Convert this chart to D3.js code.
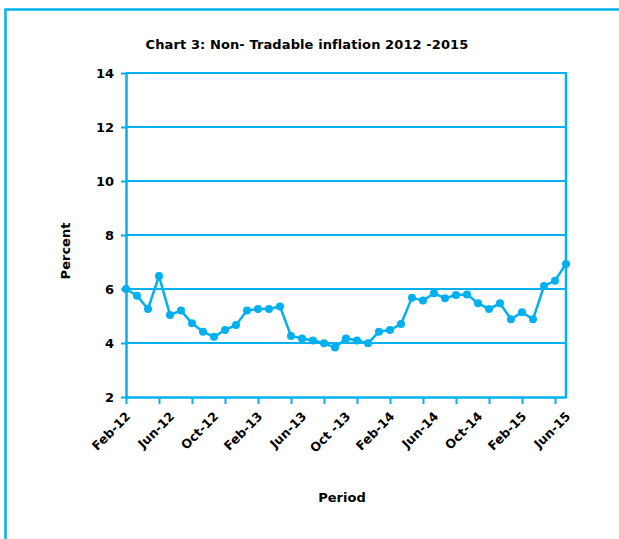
<!DOCTYPE html>
<html lang="en">
  <head>
    <meta charset="utf-8" />
    <script src="https://d3js.org/d3.v7.min.js"></script>
    <style>
      body { margin: 0; background: #ffffff; }
      text { font-family: "DejaVu Sans", sans-serif; font-weight: bold; fill: #000000; }
    </style>
  </head>
  <body>
    <script type="text/javascript">

      // months on the x axis (one point per month)
      var months = ["Feb-12", "Mar-12", "Apr-12", "May-12", "Jun-12", "Jul-12",
                    "Aug-12", "Sep-12", "Oct-12", "Nov-12", "Dec-12", "Jan-13",
                    "Feb-13", "Mar-13", "Apr-13", "May-13", "Jun-13", "Jul-13",
                    "Aug-13", "Sep-13", "Oct-13", "Nov-13", "Dec-13", "Jan-14",
                    "Feb-14", "Mar-14", "Apr-14", "May-14", "Jun-14", "Jul-14",
                    "Aug-14", "Sep-14", "Oct-14", "Nov-14", "Dec-14", "Jan-15",
                    "Feb-15", "Mar-15", "Apr-15", "May-15", "Jun-15"];

      // non-tradable inflation, percent
      var inflation = [6.00, 5.75, 5.26, 6.48, 5.04, 5.20, 4.73, 4.42, 4.23, 4.48,
                       4.67, 5.20, 5.26, 5.26, 5.35, 4.26, 4.17, 4.09, 3.99, 3.83,
                       4.17, 4.09, 3.99, 4.42, 4.48, 4.70, 5.68, 5.57, 5.84, 5.66,
                       5.78, 5.80, 5.47, 5.26, 5.47, 4.88, 5.14, 4.88, 6.11, 6.31,
                       6.93];

      // labelled months and their texts
      var labelMonths = ["Feb-12", "Jun-12", "Oct-12", "Feb-13", "Jun-13", "Oct-13",
                         "Feb-14", "Jun-14", "Oct-14", "Feb-15", "Jun-15"];
      var labelTexts = ["Feb-12", "Jun-12", "Oct-12", "Feb-13", "Jun-13", "Oct -13",
                        "Feb-14", "Jun-14", "Oct-14", "Feb-15", "Jun-15"];

      // months that get a tick mark (every third month)
      var tickMonths = months.filter(function(d, i) { return i % 3 == 0; });

      var yTicks = [2, 4, 6, 8, 10, 12, 14];

      // variables svg
      var w = 619;
      var h = 539;
      var plotLeft = 126;
      var plotRight = 566;
      var plotTop = 73;
      var plotBottom = 397;
      var blue = "#00b0f0";

      var svg = d3.select("body")
                  .append("svg")
                  .attr("width", w)
                  .attr("height", h);

      // outer frame, runs off the picture on the right and bottom
      svg.append("rect")
         .attr("x", 5.5)
         .attr("y", 9.5)
         .attr("width", 700)
         .attr("height", 700)
         .attr("fill", "none")
         .attr("stroke", blue)
         .attr("stroke-width", 2.5);

      // scales
      var xScale = d3.scalePoint()
                     .domain(months)
                     .range([plotLeft, plotRight]);
      var yScale = d3.scaleLinear()
                     .domain([2, 14])
                     .range([plotBottom, plotTop]);

      // gridlines
      svg.append("g")
         .selectAll("line")
         .data(yTicks.slice(1))
         .enter()
         .append("line")
         .attr("x1", plotLeft)
         .attr("x2", plotRight)
         .attr("y1", function(d) { return yScale(d); })
         .attr("y2", function(d) { return yScale(d); })
         .attr("stroke", blue)
         .attr("stroke-width", 2);

      // right edge of the plot
      svg.append("line")
         .attr("x1", plotRight)
         .attr("x2", plotRight)
         .attr("y1", yScale(14) - 1)
         .attr("y2", yScale(2) + 1)
         .attr("stroke", blue)
         .attr("stroke-width", 2.5);

      // y axis
      var yAxis = svg.append("g")
                     .attr("transform", "translate(" + plotLeft + ",0)")
                     .call(d3.axisLeft(yScale)
                             .tickValues(yTicks)
                             .tickSize(5)
                             .tickPadding(7)
                             .tickSizeOuter(0));
      yAxis.selectAll("line").attr("stroke", blue).attr("stroke-width", 2);
      yAxis.select(".domain").attr("stroke", blue).attr("stroke-width", 2.5);
      yAxis.selectAll("text")
           .style("font-size", "13px")
           .style("font-family", "'DejaVu Sans', sans-serif")
           .style("font-weight", "bold");

      // x axis, tick marks every third month
      var xAxis = svg.append("g")
                     .attr("transform", "translate(0," + plotBottom + ")")
                     .call(d3.axisBottom(xScale)
                             .tickValues(tickMonths)
                             .tickSize(7)
                             .tickFormat("")
                             .tickSizeOuter(0));
      xAxis.selectAll("line").attr("stroke", blue).attr("stroke-width", 2);
      xAxis.select(".domain").attr("stroke", blue).attr("stroke-width", 2.5);

      // x labels every fourth month, slanted
      svg.append("g")
         .selectAll("text")
         .data(labelMonths)
         .enter()
         .append("text")
         .attr("transform", function(d) {
           return "translate(" + (xScale(d) - 1) + "," + (plotBottom + 14) + ") rotate(-45)";
         })
         .attr("dy", "0.7em")
         .style("text-anchor", "end")
         .style("font-size", "12.5px")
         .text(function(d, i) { return labelTexts[i]; });

      // line and markers
      var line = d3.line()
                   .x(function(d, i) { return xScale(months[i]); })
                   .y(function(d) { return yScale(d); });

      svg.append("path")
         .datum(inflation)
         .attr("d", line)
         .attr("fill", "none")
         .attr("stroke", blue)
         .attr("stroke-width", 2.5);

      svg.append("g")
         .selectAll("circle")
         .data(inflation)
         .enter()
         .append("circle")
         .attr("cx", function(d, i) { return xScale(months[i]); })
         .attr("cy", function(d) { return yScale(d); })
         .attr("r", 4)
         .attr("fill", blue);

      // title
      svg.append("text")
         .attr("x", 307)
         .attr("y", 49)
         .style("text-anchor", "middle")
         .style("font-size", "13px")
         .style("letter-spacing", "0.1px")
         .text("Chart 3: Non- Tradable inflation 2012 -2015");

      // y label
      svg.append("text")
         .attr("transform", "translate(70,251) rotate(-90)")
         .style("text-anchor", "middle")
         .style("font-size", "13px")
         .text("Percent");

      // x label
      svg.append("text")
         .attr("x", 342)
         .attr("y", 502)
         .style("text-anchor", "middle")
         .style("font-size", "13px")
         .text("Period");

    </script>
  </body>
</html>
